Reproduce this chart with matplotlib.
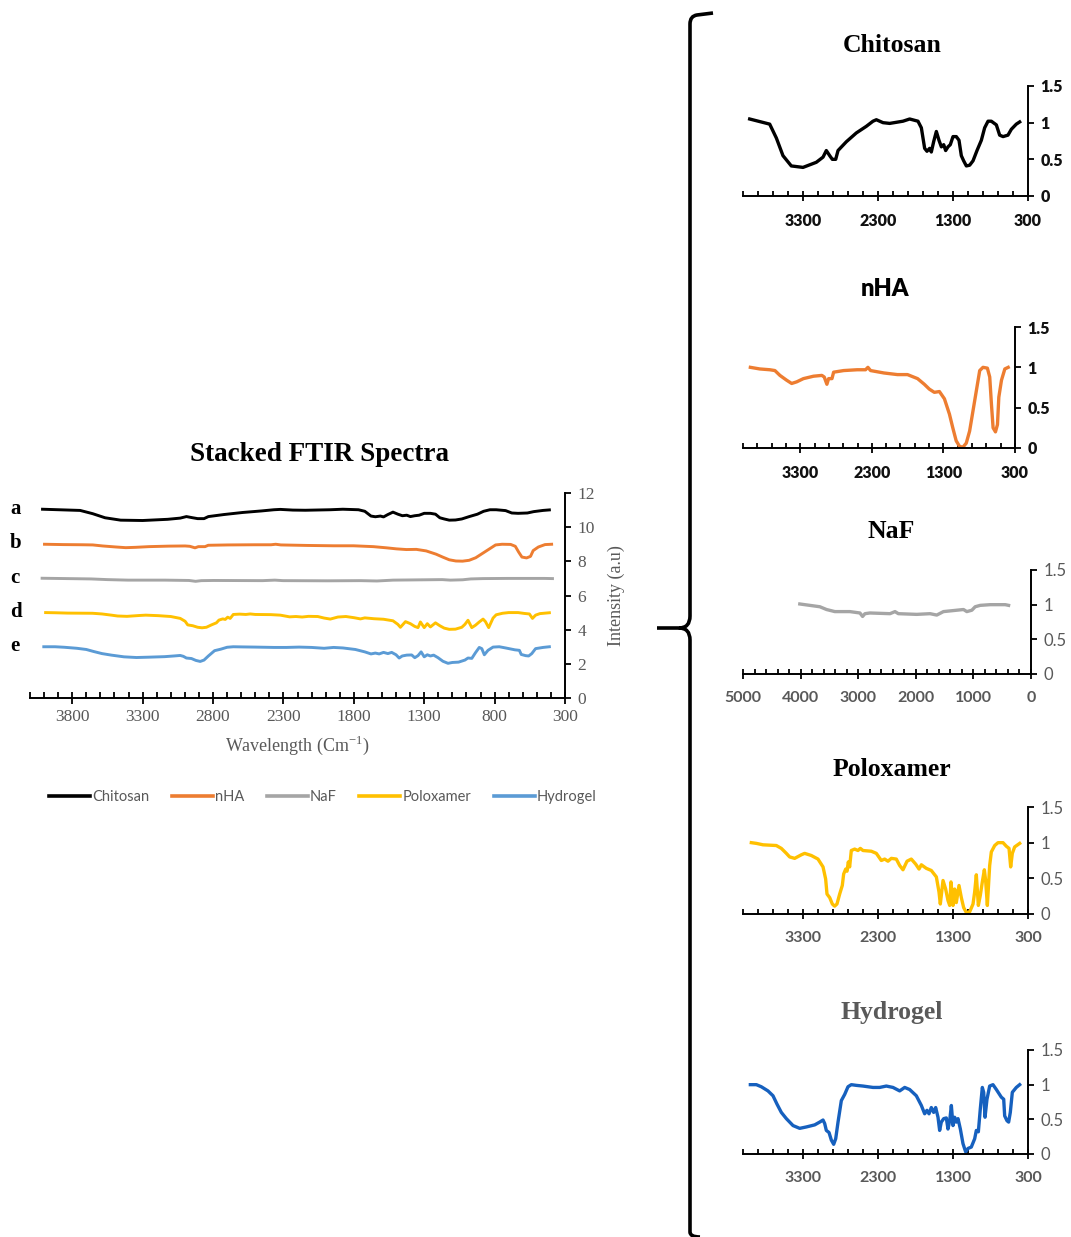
import numpy as np
import matplotlib.pyplot as plt
from matplotlib.ticker import MultipleLocator, FixedLocator
from matplotlib.path import Path
from matplotlib.patches import PathPatch

plt.rcParams['mathtext.fontset'] = 'custom'
plt.rcParams['mathtext.rm'] = 'Liberation Serif'

SERIF = 'Liberation Serif'
SANS = 'Lato'
GREY = '#595959'

# normalised spectra (wavenumber, intensity)
chitosan_wn = [4011, 3744, 3655, 3567, 3456, 3300, 3122, 3033, 2989, 2944, 2909, 2864, 2833, 2722,
               2589, 2456, 2367, 2322, 2233, 2144, 1967, 1878, 1767, 1722, 1678, 1647, 1611, 1589,
               1558, 1522, 1487, 1455, 1424, 1398, 1367, 1336, 1300, 1256, 1220, 1189, 1158, 1122,
               1078, 1033, 980, 922, 878, 833, 789, 722, 678, 633, 567, 522, 456, 411]
chitosan_ab = [1.05, 0.98, 0.79, 0.55, 0.41, 0.39, 0.46, 0.53, 0.62, 0.55, 0.50, 0.50, 0.62, 0.74,
               0.86, 0.95, 1.02, 1.04, 1.00, 0.99, 1.02, 1.05, 1.02, 0.93, 0.65, 0.61, 0.65, 0.60,
               0.74, 0.88, 0.76, 0.67, 0.70, 0.62, 0.67, 0.70, 0.81, 0.81, 0.76, 0.55, 0.48, 0.41,
               0.42, 0.48, 0.62, 0.76, 0.93, 1.02, 1.02, 0.97, 0.83, 0.81, 0.83, 0.91, 0.98, 1.01]

nha_wn = [3997, 3866, 3725, 3654, 3584, 3490, 3420, 3350, 3256, 3115, 2998, 2965, 2928, 2904, 2857,
          2834, 2693, 2505, 2388, 2355, 2318, 2130, 1943, 1802, 1661, 1567, 1497, 1427, 1356, 1286,
          1216, 1169, 1122, 1075, 1028, 981, 934, 887, 840, 793, 747, 686, 653, 629, 606, 573, 545,
          526, 489, 442, 395]
nha_ab = [1.00, 0.98, 0.97, 0.96, 0.90, 0.84, 0.80, 0.82, 0.86, 0.89, 0.90, 0.88, 0.79, 0.86, 0.86,
          0.94, 0.96, 0.97, 0.97, 1.00, 0.96, 0.93, 0.91, 0.91, 0.86, 0.79, 0.73, 0.69, 0.70, 0.61,
          0.42, 0.25, 0.09, 0.02, 0.01, 0.06, 0.21, 0.46, 0.71, 0.96, 1.00, 0.99, 0.88, 0.54, 0.25,
          0.20, 0.29, 0.63, 0.84, 0.98, 1.00]

naf_wn = [4014, 3840, 3666, 3550, 3405, 3144, 2970, 2924, 2883, 2796, 2448, 2361, 2303, 1984, 1752,
          1636, 1520, 1288, 1172, 1114, 1027, 969, 882, 708, 447, 389]
naf_ab = [1.01, 0.99, 0.97, 0.93, 0.90, 0.90, 0.88, 0.83, 0.87, 0.88, 0.87, 0.90, 0.87, 0.86, 0.87,
          0.85, 0.90, 0.92, 0.93, 0.90, 0.92, 0.97, 0.99, 1.00, 1.00, 0.99]

polox_wn = [3989, 3922, 3833, 3656, 3589, 3522, 3478, 3411, 3322, 3278, 3189, 3100, 3033, 2998, 2980,
            2944, 2909, 2878, 2847, 2811, 2776, 2758, 2731, 2713, 2696, 2678, 2656, 2611, 2567, 2536,
            2500, 2389, 2322, 2256, 2211, 2167, 2122, 2056, 2011, 1967, 1913, 1856, 1798, 1753, 1722,
            1656, 1589, 1522, 1487, 1469, 1433, 1398, 1367, 1344, 1327, 1300, 1278, 1256, 1220, 1189,
            1158, 1122, 1078, 1033, 1011, 989, 962, 936, 909, 882, 865, 842, 811, 789, 744, 700, 633,
            589, 553, 531, 509, 478, 411]
polox_ab = [1.00, 0.99, 0.97, 0.96, 0.92, 0.85, 0.80, 0.78, 0.83, 0.85, 0.82, 0.77, 0.66, 0.49, 0.28,
            0.23, 0.14, 0.11, 0.14, 0.28, 0.40, 0.56, 0.63, 0.60, 0.73, 0.66, 0.89, 0.91, 0.89, 0.92,
            0.89, 0.88, 0.85, 0.75, 0.77, 0.74, 0.78, 0.77, 0.68, 0.62, 0.74, 0.77, 0.70, 0.63, 0.69,
            0.64, 0.61, 0.52, 0.31, 0.14, 0.47, 0.35, 0.19, 0.12, 0.45, 0.12, 0.35, 0.16, 0.40, 0.23,
            0.09, 0.02, 0.03, 0.14, 0.31, 0.55, 0.12, 0.26, 0.45, 0.62, 0.47, 0.12, 0.68, 0.87, 0.96,
            1.00, 1.00, 0.95, 0.92, 0.66, 0.85, 0.94, 0.99]

hydro_wn = [4002, 3922, 3856, 3767, 3700, 3647, 3589, 3522, 3433, 3344, 3256, 3144, 3078, 3033, 3011,
            2989, 2953, 2922, 2891, 2864, 2833, 2789, 2744, 2700, 2656, 2589, 2500, 2367, 2278, 2189,
            2100, 2011, 1944, 1878, 1789, 1722, 1678, 1647, 1620, 1589, 1558, 1531, 1500, 1478, 1456,
            1424, 1389, 1367, 1344, 1322, 1300, 1278, 1256, 1233, 1202, 1167, 1131, 1100, 1056, 1011,
            989, 962, 936, 909, 891, 873, 847, 811, 767, 722, 656, 624, 611, 580, 558, 536, 509, 456,
            411]
hydro_ab = [1.00, 1.00, 0.97, 0.91, 0.84, 0.72, 0.60, 0.51, 0.41, 0.37, 0.39, 0.42, 0.46, 0.49, 0.44,
            0.34, 0.31, 0.20, 0.14, 0.22, 0.46, 0.77, 0.86, 0.97, 1.00, 0.99, 0.98, 0.96, 0.96, 0.98,
            0.96, 0.91, 0.96, 0.93, 0.84, 0.70, 0.58, 0.63, 0.58, 0.67, 0.60, 0.67, 0.53, 0.34, 0.46,
            0.51, 0.52, 0.36, 0.48, 0.70, 0.41, 0.53, 0.46, 0.51, 0.36, 0.15, 0.03, 0.08, 0.10, 0.22,
            0.34, 0.32, 0.65, 0.96, 0.89, 0.53, 0.79, 0.98, 1.00, 0.93, 0.82, 0.79, 0.55, 0.48, 0.46,
            0.60, 0.89, 0.96, 1.00]

names = ['Chitosan', 'nHA', 'NaF', 'Poloxamer', 'Hydrogel']
letters = ['a', 'b', 'c', 'd', 'e']
offsets = [10, 8, 6, 4, 2]
colors = ['#000000', '#ED7D31', '#A5A5A5', '#FFC000', '#5B9BD5']
spectra = [(chitosan_wn, chitosan_ab), (nha_wn, nha_ab), (naf_wn, naf_ab),
           (polox_wn, polox_ab), (hydro_wn, hydro_ab)]

W, H = 1071, 1237
fig = plt.figure(figsize=(W / 100, H / 100), dpi=100)


def px_axes(l, t, r, b):
    return fig.add_axes([l / W, 1 - b / H, (r - l) / W, (b - t) / H])


def fig_text(x, y, s, **kw):
    fig.text(x / W, 1 - y / H, s, ha='center', va='center', **kw)


# stacked plot
ax = px_axes(30, 493, 565, 698)
for (wn, ab), off, c in zip(spectra, offsets, colors):
    ax.plot(wn, np.array(ab) + off, color=c, lw=2.1, solid_joinstyle='round')
ax.set_xlim(4100, 300)
ax.set_ylim(0, 12)
for s in ['top', 'left']:
    ax.spines[s].set_visible(False)
for s in ['bottom', 'right']:
    ax.spines[s].set_linewidth(1.4)
ax.yaxis.tick_right()
ax.yaxis.set_label_position('right')
ax.set_yticks(range(0, 13, 2))
ax.xaxis.set_major_locator(FixedLocator([3800, 3300, 2800, 2300, 1800, 1300, 800, 300]))
ax.xaxis.set_minor_locator(MultipleLocator(100))
ax.tick_params(axis='x', which='major', direction='inout', length=8, width=1.3, pad=4)
ax.tick_params(axis='x', which='minor', direction='in', length=4, width=1.3)
ax.tick_params(axis='y', direction='out', length=4, width=1.3, pad=5)
for lab in ax.get_xticklabels() + ax.get_yticklabels():
    lab.set_fontfamily(SERIF)
    lab.set_fontsize(12.5)
    lab.set_color(GREY)
ax.set_ylabel('Intensity (a.u)', family=SERIF, fontsize=13, color=GREY, labelpad=9)
fig_text(297, 745, 'Wavelength (Cm$^{\\mathregular{-1}}$)', family=SERIF, fontsize=13, color=GREY)
fig_text(320, 454, 'Stacked FTIR Spectra', family=SERIF, fontsize=19.5, weight='bold')
for i, (let, off) in enumerate(zip(letters, offsets)):
    fig.text(10 / W, 1 - (509 + 34.3 * i) / H, let, ha='left', va='center', family=SERIF,
             fontsize=15, weight='bold')

leg = fig.legend(ax.get_lines(), names, loc='center', ncol=5, frameon=False,
                 bbox_to_anchor=(323 / W, 1 - 797 / H), handlelength=2.8, handletextpad=0.15,
                 columnspacing=1.55, prop={'family': SANS, 'size': 10.5})
for t in leg.get_texts():
    t.set_color(GREY)
for h in leg.legend_handles:
    h.set_linewidth(2.6)

# individual panels
panel_boxes = [(743, 86, 1028, 196), (743, 327, 1015, 448), (743, 570, 1031, 674),
               (743, 807, 1028, 914), (743, 1050, 1028, 1154)]
panel_colors = ['#000000', '#ED7D31', '#A5A5A5', '#FFC000', '#1660BE']
title_pos = [(892, 46), (885, 289), (891, 531), (892, 769), (892, 1012)]

for k, ((wn, ab), box, c, tp) in enumerate(zip(spectra, panel_boxes, panel_colors, title_pos)):
    a = px_axes(*box)
    a.plot(wn, ab, color=c, lw=2.4, solid_joinstyle='round')
    a.set_ylim(0, 1.5)
    a.set_yticks([0, 0.5, 1, 1.5])
    a.set_yticklabels(['0', '0.5', '1', '1.5'])
    if k == 2:
        a.set_xlim(5000, 0)
        a.xaxis.set_major_locator(FixedLocator([5000, 4000, 3000, 2000, 1000, 0]))
        a.xaxis.set_minor_locator(MultipleLocator(200))
    else:
        a.set_xlim(4100, 300)
        a.xaxis.set_major_locator(FixedLocator([3300, 2300, 1300, 300]))
        a.xaxis.set_minor_locator(FixedLocator(range(300, 4101, 200)))
    for s in ['top', 'left']:
        a.spines[s].set_visible(False)
    for s in ['bottom', 'right']:
        a.spines[s].set_linewidth(1.4)
    a.yaxis.tick_right()
    a.tick_params(axis='x', which='major', direction='inout', length=7, width=1.3, pad=9)
    a.tick_params(axis='x', which='minor', direction='in', length=3.5, width=1.3)
    a.tick_params(axis='y', direction='out', length=4, width=1.3, pad=5)
    if k < 2:
        for lab in a.get_xticklabels() + a.get_yticklabels():
            lab.set_fontfamily(SANS)
            lab.set_fontsize(11.5)
            lab.set_fontweight('heavy')
            lab.set_color('#111111')
    else:
        for lab in a.get_xticklabels():
            lab.set_fontfamily(SANS)
            lab.set_fontsize(11.5)
            lab.set_fontweight('bold')
            lab.set_color(GREY)
        for lab in a.get_yticklabels():
            lab.set_fontfamily(SANS)
            lab.set_fontsize(12)
            lab.set_color(GREY)
    if k == 1:
        fig_text(tp[0], tp[1], names[k], family=SANS, fontsize=17, weight='heavy')
    else:
        fig_text(tp[0], tp[1], names[k], family=SERIF, fontsize=18.5, weight='bold',
                 color=GREY if k == 4 else 'black')

# curly brace
ov = fig.add_axes([0, 0, 1, 1])
ov.set_xlim(0, W)
ov.set_ylim(H, 0)
ov.axis('off')
verts = [(713, 13), (697, 15), (690, 16), (690, 24), (690, 616), (690, 628), (679, 628),
         (657, 628), (679, 628), (690, 628), (690, 640), (690, 1232), (690, 1237), (700, 1237)]
codes = [Path.MOVETO, Path.LINETO, Path.CURVE3, Path.CURVE3, Path.LINETO, Path.CURVE3,
         Path.CURVE3, Path.LINETO, Path.MOVETO, Path.CURVE3, Path.CURVE3, Path.LINETO,
         Path.CURVE3, Path.CURVE3]
ov.add_patch(PathPatch(Path(verts, codes), fill=False, lw=2.6, edgecolor='black',
                       capstyle='butt', joinstyle='round'))

fig.savefig('out.png', dpi=100)
